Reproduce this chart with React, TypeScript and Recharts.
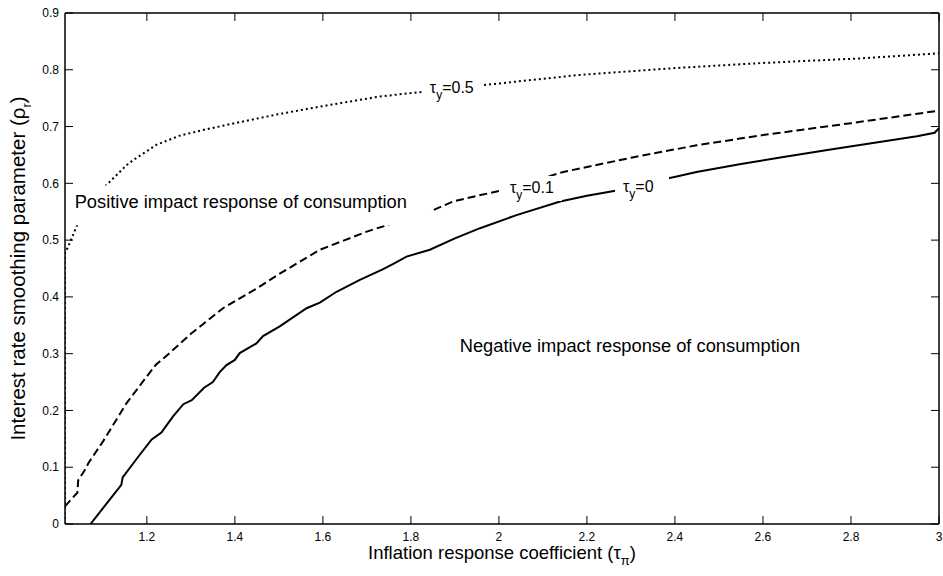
import { LineChart, Line, XAxis, YAxis, ReferenceDot, ReferenceArea } from 'recharts';

const FONT = '"Liberation Sans", Arial, Helvetica, sans-serif';

// inflation response (tau_pi) vs smoothing (rho_r) boundary, one list per tau_y
const boundaryTauY0: [number, number][] = [
  [1.072, 0], [1.142, 0.069], [1.145, 0.082], [1.18, 0.118], [1.211, 0.149], [1.233, 0.161],
  [1.26, 0.19], [1.283, 0.211], [1.302, 0.218], [1.33, 0.24], [1.35, 0.25], [1.366, 0.268],
  [1.381, 0.28], [1.4, 0.289], [1.411, 0.301], [1.449, 0.318], [1.464, 0.331], [1.502, 0.348],
  [1.563, 0.38], [1.593, 0.39], [1.631, 0.409], [1.684, 0.43], [1.737, 0.449], [1.76, 0.458],
  [1.79, 0.471], [1.843, 0.483], [1.9, 0.503], [1.957, 0.521], [2.04, 0.544], [2.139, 0.568],
  [2.2, 0.578], [2.271, 0.588], [2.35, 0.603], [2.404, 0.612], [2.449, 0.62], [2.55, 0.634],
  [2.65, 0.647], [2.75, 0.659], [2.85, 0.671], [2.95, 0.683], [2.99, 0.689], [3.0, 0.697],
];

const boundaryTauY01: [number, number][] = [
  [1.014, 0.031], [1.03, 0.045], [1.042, 0.055], [1.044, 0.077], [1.059, 0.095], [1.067, 0.107],
  [1.1, 0.145], [1.154, 0.213], [1.2, 0.26], [1.22, 0.28], [1.25, 0.3], [1.3, 0.335],
  [1.373, 0.38], [1.45, 0.415], [1.5, 0.44], [1.593, 0.483], [1.7, 0.515], [1.8, 0.54],
  [1.851, 0.553], [1.896, 0.568], [1.95, 0.578], [2.01, 0.588], [2.146, 0.62], [2.3, 0.645],
  [2.449, 0.667], [2.6, 0.685], [2.8, 0.706], [3.0, 0.728],
];

const boundaryTauY05: [number, number][] = [
  [1.014, 0], [1.014, 0.48], [1.02, 0.486], [1.03, 0.505], [1.044, 0.531], [1.07, 0.565],
  [1.108, 0.597], [1.154, 0.632], [1.169, 0.641], [1.222, 0.668], [1.275, 0.684], [1.328, 0.694],
  [1.4, 0.706], [1.5, 0.722], [1.6, 0.736], [1.73, 0.753], [1.824, 0.761], [1.964, 0.773],
  [2.184, 0.791], [2.4, 0.803], [2.6, 0.812], [2.82, 0.82], [3.0, 0.829],
];

const xTicks = [1.2, 1.4, 1.6, 1.8, 2, 2.2, 2.4, 2.6, 2.8, 3];
const yTicks = [0, 0.1, 0.2, 0.3, 0.4, 0.5, 0.6, 0.7, 0.8, 0.9];
const xDomain: [number, number] = [1.014, 3];
const yDomain: [number, number] = [0, 0.9];

const toRows = (pts: [number, number][]) => pts.map(([tau, rho]) => ({ tau, rho }));

const TICK_LEN = 8;
const X_MARGIN = 8;
const Y_MARGIN = 6;

// matlab style: tick marks point into the plot box
const bottomTick = (props: any) => {
  const { x, y, payload } = props;
  const base = y - X_MARGIN;
  return (
    <g key={`b-${payload.value}`}>
      <path d={`M${x},${base}V${base - TICK_LEN}`} stroke="#000" strokeWidth={1} />
      <text x={x} y={y} dy="0.71em" textAnchor="middle" fontFamily={FONT} fontSize={12} fill="#000">
        {String(payload.value)}
      </text>
    </g>
  );
};

const leftTick = (props: any) => {
  const { x, y, payload } = props;
  const base = x + Y_MARGIN;
  return (
    <g key={`l-${payload.value}`}>
      <path d={`M${base},${y}H${base + TICK_LEN}`} stroke="#000" strokeWidth={1} />
      <text x={x} y={y} dy="0.355em" textAnchor="end" fontFamily={FONT} fontSize={12} fill="#000">
        {String(payload.value)}
      </text>
    </g>
  );
};

const topTick = (props: any) => {
  const { x, y, payload } = props;
  return <path key={`t-${payload.value}`} d={`M${x},${y}V${y + TICK_LEN}`} stroke="#000" strokeWidth={1} />;
};

const rightTick = (props: any) => {
  const { x, y, payload } = props;
  return <path key={`r-${payload.value}`} d={`M${x},${y}H${x - TICK_LEN}`} stroke="#000" strokeWidth={1} />;
};

// tau_y label sitting on a white patch that cuts the curve
const curveLabel = (value: string, w: number) => (props: any) => {
  const { cx, cy } = props;
  return (
    <g>
      <rect x={cx - 8} y={cy - 17} width={w} height={25} fill="#fff" />
      <text x={cx} y={cy} fontFamily={FONT} fontSize={16} fill="#000">
        τ
        <tspan dy={6} fontSize={12}>y</tspan>
        <tspan dy={-6}>{value}</tspan>
      </text>
    </g>
  );
};

const regionLabel = (value: string, w: number, masked: boolean) => (props: any) => {
  const { cx, cy } = props;
  return (
    <g>
      {masked && <rect x={cx - 6} y={cy - 23} width={w} height={40} fill="#fff" />}
      <text x={cx} y={cy} fontFamily={FONT} fontSize={18.3} fill="#000">
        {value}
      </text>
    </g>
  );
};

const XTitle = (props: any) => {
  const { x, y, width } = props.viewBox;
  return (
    <text x={x + width / 2} y={y + 35} textAnchor="middle" fontFamily={FONT} fontSize={18.5} fill="#000">
      Inflation response coefficient (τ
      <tspan dy={6} fontSize={13}>π</tspan>
      <tspan dy={-6}>)</tspan>
    </text>
  );
};

const YTitle = (props: any) => {
  const { y, height } = props.viewBox;
  const cx = 25;
  const cy = y + height / 2;
  return (
    <text
      x={cx}
      y={cy}
      transform={`rotate(-90 ${cx} ${cy})`}
      textAnchor="middle"
      fontFamily={FONT}
      fontSize={20.5}
      fill="#000"
    >
      Interest rate smoothing parameter (ρ
      <tspan dy={6} fontSize={13}>r</tspan>
      <tspan dy={-6}>)</tspan>
    </text>
  );
};

export default function App() {
  return (
    <div style={{ position: 'absolute', left: 0, top: 0, width: 943, height: 576, background: '#fff' }}>
      <LineChart width={943} height={576} margin={{ top: 0, right: 0, bottom: 0, left: 0 }}>
        <XAxis
          type="number"
          dataKey="tau"
          domain={xDomain}
          ticks={xTicks}
          allowDataOverflow
          height={52}
          tickSize={0}
          tickMargin={X_MARGIN}
          tickLine={false}
          tick={bottomTick}
          stroke="#000"
          label={<XTitle />}
        />
        <XAxis
          xAxisId="top"
          orientation="top"
          type="number"
          dataKey="tau"
          domain={xDomain}
          ticks={xTicks}
          allowDataOverflow
          height={13}
          tickSize={0}
          tickMargin={0}
          tickLine={false}
          tick={topTick}
          stroke="#000"
        />
        <YAxis
          type="number"
          domain={yDomain}
          ticks={yTicks}
          allowDataOverflow
          width={65}
          tickSize={0}
          tickMargin={Y_MARGIN}
          tickLine={false}
          tick={leftTick}
          stroke="#000"
          label={<YTitle />}
        />
        <YAxis
          yAxisId="right"
          orientation="right"
          type="number"
          domain={yDomain}
          ticks={yTicks}
          allowDataOverflow
          width={4}
          tickSize={0}
          tickMargin={0}
          tickLine={false}
          tick={rightTick}
          stroke="#000"
        />
        <ReferenceArea
          x1={xDomain[0]}
          x2={xDomain[1]}
          y1={yDomain[0]}
          y2={yDomain[1]}
          fill="none"
          fillOpacity={0}
          stroke="#000"
          strokeWidth={1}
        />
        <Line
          data={toRows(boundaryTauY0)}
          dataKey="rho"
          stroke="#000"
          strokeWidth={2}
          dot={false}
          isAnimationActive={false}
        />
        <Line
          data={toRows(boundaryTauY01)}
          dataKey="rho"
          stroke="#000"
          strokeWidth={2}
          strokeDasharray="8 4"
          dot={false}
          isAnimationActive={false}
        />
        <Line
          xAxisId="top"
          yAxisId="right"
          data={toRows(boundaryTauY05)}
          dataKey="rho"
          stroke="#000"
          strokeWidth={2}
          strokeDasharray="2 3"
          dot={false}
          isAnimationActive={false}
        />
        <ReferenceDot x={1.843} y={0.759} r={0} shape={curveLabel('=0.5', 62)} />
        <ReferenceDot x={2.025} y={0.583} r={0} shape={curveLabel('=0.1', 60)} />
        <ReferenceDot x={2.282} y={0.585} r={0} shape={curveLabel('=0', 54)} />
        <ReferenceDot x={1.036} y={0.556} r={0} shape={regionLabel('Positive impact response of consumption', 362, true)} />
        <ReferenceDot x={1.911} y={0.303} r={0} shape={regionLabel('Negative impact response of consumption', 0, false)} />
      </LineChart>
    </div>
  );
}
